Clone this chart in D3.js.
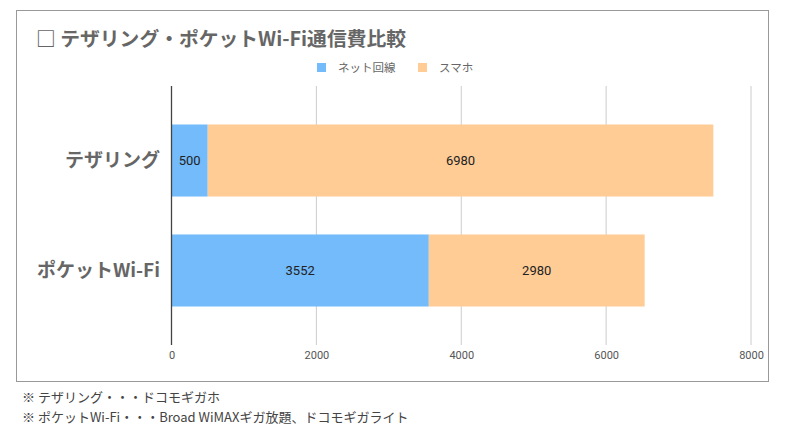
<!DOCTYPE html>
<html><head><meta charset="utf-8">
<script src="https://cdn.jsdelivr.net/npm/d3@7"></script>
<style>
body{margin:0;background:#fff;font-family:"Noto Sans CJK JP","Noto Sans",sans-serif;}
</style></head>
<body><svg id="c" width="790" height="431"></svg>
<script>
const categories = ["テザリング", "ポケットWi-Fi"];
const seriesNames = ["ネット回線", "スマホ"];
const netValues = [500, 3552];
const phoneValues = [6980, 2980];
const xTicks = [0, 2000, 4000, 6000, 8000];
const colors = ["#73bbfa", "#ffcc96"];
const title = "□ テザリング・ポケットWi-Fi通信費比較";
const notes = ["※ テザリング・・・ドコモギガホ", "※ ポケットWi-Fi・・・Broad WiMAXギガ放題、ドコモギガライト"];

const svg = d3.select("#c");
const font = '"Noto Sans CJK JP","Noto Sans",sans-serif';

svg.append("rect").attr("x",16.5).attr("y",10.5).attr("width",752).attr("height",371)
  .attr("fill","#fff").attr("stroke","#999").attr("stroke-width",1);

svg.append("text").attr("x",36).attr("y",46).text(title)
  .attr("font-family",font).attr("font-size",19.8).attr("font-weight","bold").attr("fill","#666");

const x = d3.scaleLinear().domain([0,8000]).range([171.5,751]);
const y = d3.scaleBand().domain(categories).range([86,345]).paddingInner(0.345).paddingOuter(0.35);

// gridlines
svg.append("g").selectAll("line").data(xTicks.slice(1)).join("line")
  .attr("x1",d=>x(d)).attr("x2",d=>x(d)).attr("y1",86).attr("y2",345)
  .attr("stroke","#ccc").attr("stroke-width",1);

// axis labels via d3 axis
const ax = svg.append("g").attr("transform","translate(0,345)")
  .call(d3.axisBottom(x).tickValues(xTicks).tickSize(0).tickPadding(6).tickFormat(d3.format("d")));
ax.select(".domain").remove();
ax.selectAll("text").attr("font-family","Roboto,sans-serif").attr("font-size",11).attr("fill","#555");

// stacked data
const data = categories.map((c,i)=>({cat:c, v0:netValues[i], v1:phoneValues[i]}));
const stack = d3.stack().keys(["v0","v1"])(data);

stack.forEach((s,si)=>{
  const g = svg.append("g");
  g.selectAll("rect").data(s).join("rect")
    .attr("x",d=>x(d[0])).attr("width",d=>x(d[1])-x(d[0]))
    .attr("y",d=>y(d.data.cat)).attr("height",y.bandwidth())
    .attr("fill",colors[si]);
  g.selectAll("text").data(s).join("text")
    .attr("x",d=>(x(d[0])+x(d[1]))/2).attr("y",d=>y(d.data.cat)+y.bandwidth()/2)
    .attr("dy","0.35em").attr("text-anchor","middle")
    .attr("font-family","Roboto,sans-serif").attr("font-size",13).attr("fill","#222")
    .text(d=>d[1]-d[0]);
});

// category axis line
svg.append("line").attr("x1",x(0)).attr("x2",x(0)).attr("y1",86).attr("y2",345)
  .attr("stroke","#444").attr("stroke-width",1.3);

// category labels
svg.append("g").selectAll("text").data(categories).join("text")
  .attr("x",160).attr("y",d=>y(d)+y.bandwidth()/2).attr("dy","0.35em")
  .attr("text-anchor","end").attr("font-family",font).attr("font-size",19)
  .attr("font-weight","bold").attr("fill","#666").text(d=>d);

// legend
const lg = svg.append("g");
const lx = [317, 418];
seriesNames.forEach((n,i)=>{
  lg.append("rect").attr("x",lx[i]).attr("y",63).attr("width",9).attr("height",9).attr("fill",colors[i]);
  lg.append("text").attr("x",lx[i]+21).attr("y",67.5).attr("dy","0.35em")
    .attr("font-family",font).attr("font-size",11.5).attr("fill","#666").text(n);
});

// notes
svg.append("g").selectAll("text").data(notes).join("text")
  .attr("x",22).attr("y",(d,i)=>402+i*20)
  .attr("font-family",font).attr("font-size",13).attr("fill","#444").text(d=>d);
</script></body></html>
